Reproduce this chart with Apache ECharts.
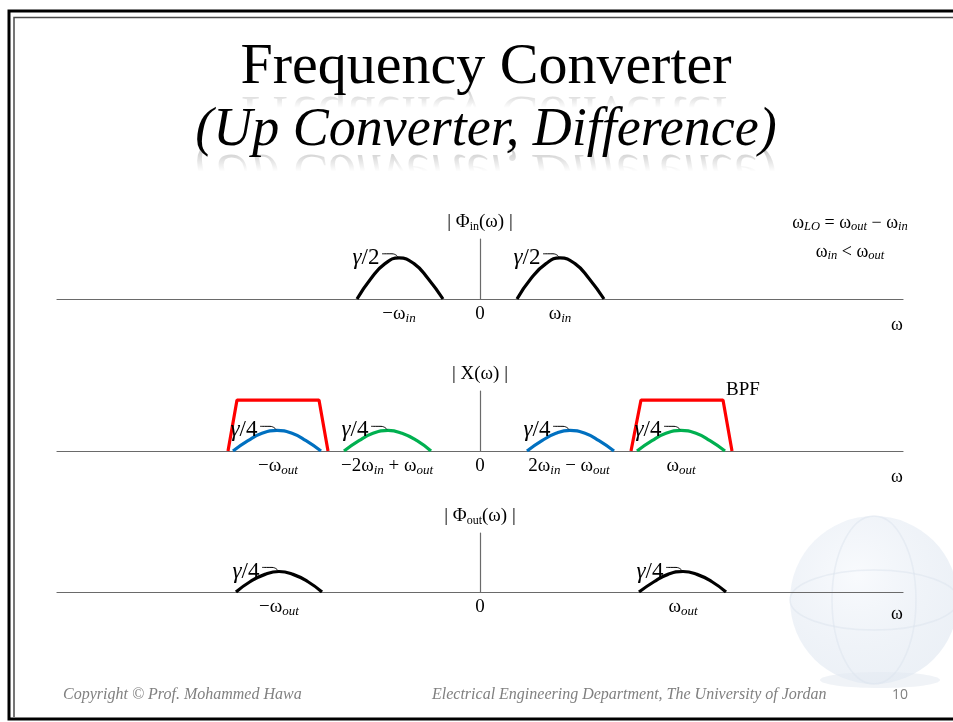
<!DOCTYPE html>
<html><head><meta charset="utf-8">
<script src="https://cdn.jsdelivr.net/npm/echarts@6/dist/echarts.min.js"></script>
<style>html,body{margin:0;padding:0;background:#fff}#c{width:953px;height:722px}</style>
</head><body><div id="c"></div>
<script>
const SERIF = '"Liberation Serif", "Times New Roman", serif';

// frequency axis range (arbitrary units, 0 at the centre)
const xRange = [-423, 423];
const yMaxes = [0.73, 0.73, 0.72];

// panel 1 : |Φin(ω)|  (peaks γ/2)
const inLeftX  = [-123, -109, -95, -81, -66, -52, -37];
const inRightX = [37, 51, 66, 80, 95, 109, 124];
const halfBump = [0, 0.25, 0.43, 0.5, 0.43, 0.25, 0];

// panel 2 : |X(ω)|  (peaks γ/4) + BPF
const blueLeftX   = [-247, -232, -218, -203, -188, -174, -159];
const greenLeftX  = [-136, -121, -107, -92, -78, -63, -49];
const blueRightX  = [47, 62, 76, 90, 105, 119, 134];
const greenRightX = [157, 172, 186, 201, 216, 230, 245];
const quarterBump = [0, 0.125, 0.215, 0.25, 0.215, 0.125, 0];
const bpfLeftX  = [-252, -243, -161, -152];
const bpfRightX = [151, 161, 243, 252];
const bpfLevel  = [0, 0.62, 0.62, 0];

// panel 3 : |Φout(ω)|
const outLeftX  = [-244, -230, -215, -201, -187, -172, -158];
const outRightX = [159, 174, 188, 203, 217, 232, 246];

// peaks that carry a γ label
const gammaPeaks1 = [-81, 80];
const gammaPeaks2 = [-203, -92, 90, 201];
const gammaPeaks3 = [-201, 203];

// tick labels
const ticks1 = [-81, 0, 80];
const tickLabels1 = ['{m|−ω}{s|in}', '{m|0}', '{m|ω}{s|in}'];
const ticks2 = [-202, -93, 0, 89, 201];
const tickLabels2 = ['{m|−ω}{s|out}', '{m|−2ω}{s|in}{m| + ω}{s|out}', '{m|0}', '{m|2ω}{s|in}{m| − ω}{s|out}', '{m|ω}{s|out}'];
const ticks3 = [-201, 0, 203];
const tickLabels3 = ['{m|−ω}{s|out}', '{m|0}', '{m|ω}{s|out}'];

const axisNames = ['{m|| Φ}{su|in}{m|(ω) |}', '{m|| X(ω) |}', '{m|| Φ}{su|out}{m|(ω) |}'];

const rich = {
  m:  {fontFamily: SERIF, fontSize: 19, color: '#000', lineHeight: 22, verticalAlign: 'middle'},
  s:  {fontFamily: SERIF, fontSize: 13, fontStyle: 'italic', color: '#000', lineHeight: 22, verticalAlign: 'bottom'},
  su: {fontFamily: SERIF, fontSize: 12, color: '#000', lineHeight: 22, verticalAlign: 'bottom'},
  g:  {fontFamily: SERIF, fontSize: 23, fontStyle: 'italic', color: '#000'},
  n:  {fontFamily: SERIF, fontSize: 23, color: '#000'}
};

const AX = '#6a6a6a';
const grids = [
  {left: 57, width: 846, top: 239, height: 60},
  {left: 57, width: 846, top: 391, height: 60},
  {left: 57, width: 846, top: 533, height: 59}
];
const tickSets = [[ticks1, tickLabels1], [ticks2, tickLabels2], [ticks3, tickLabels3]];
const omegaPad = [17, 17, 13];

const xAxes = tickSets.map(([t, l], gi) => ({
  type: 'value', gridIndex: gi, min: xRange[0], max: xRange[1],
  axisLine: {show: true, onZero: false, lineStyle: {color: AX, width: 1.2}},
  axisTick: {show: false}, splitLine: {show: false},
  axisLabel: {show: true, customValues: t, margin: 4, formatter: v => l[t.indexOf(v)], rich},
  name: 'ω', nameLocation: 'end', nameGap: -6,
  nameTextStyle: {fontFamily: SERIF, fontSize: 18, color: '#000', align: 'center', verticalAlign: 'top', padding: [omegaPad[gi], 0, 0, 0]}
}));
const yAxes = grids.map((g, gi) => ({
  type: 'value', gridIndex: gi, min: 0, max: yMaxes[gi],
  axisLine: {show: true, onZero: true, lineStyle: {color: AX, width: 1.2}},
  axisTick: {show: false}, axisLabel: {show: false}, splitLine: {show: false},
  name: axisNames[gi], nameLocation: 'end', nameGap: 6,
  nameTextStyle: {rich, align: 'center'}
}));

const zip = (xs, ys) => xs.map((x, i) => [x, ys[i]]);
function curve(gi, xs, ys, color) {
  return {type: 'line', xAxisIndex: gi, yAxisIndex: gi, data: zip(xs, ys), smooth: 0.5,
    symbol: 'none', silent: true, lineStyle: {color, width: 3.2}, z: 3};
}
function bpf(gi, xs) {
  return {type: 'line', xAxisIndex: gi, yAxisIndex: gi, data: zip(xs, bpfLevel), smooth: false,
    symbol: 'none', silent: true, lineStyle: {color: '#ff0000', width: 3.2}, z: 2};
}
function leaders(gi, peaks, h) {
  return peaks.map(p => ({type: 'line', xAxisIndex: gi, yAxisIndex: gi, smooth: 0.6, symbol: 'none',
    silent: true, lineStyle: {color: '#000', width: 1}, z: 4,
    data: [[p - 17, h + 0.05], [p - 7, h + 0.05], [p - 1, h + 0.012]]}));
}
const hiddenDot = {color: 'rgba(0,0,0,0)', opacity: 1};
function gammaLabels(gi, peaks, h, txt) {
  return {type: 'scatter', xAxisIndex: gi, yAxisIndex: gi, symbolSize: 1, clip: false, silent: true,
    itemStyle: hiddenDot, z: 5,
    data: peaks.map(p => [p - 18, h]),
    label: {show: true, position: 'left', distance: 1, color: '#000', opacity: 1, formatter: txt, rich}};
}

const BLUE = '#0070c0', GREEN = '#00b050';
const series = [
  curve(0, inLeftX, halfBump, '#000'),
  curve(0, inRightX, halfBump, '#000'),
  bpf(1, bpfLeftX), bpf(1, bpfRightX),
  curve(1, blueLeftX, quarterBump, BLUE),
  curve(1, greenLeftX, quarterBump, GREEN),
  curve(1, blueRightX, quarterBump, BLUE),
  curve(1, greenRightX, quarterBump, GREEN),
  curve(2, outLeftX, quarterBump, '#000'),
  curve(2, outRightX, quarterBump, '#000'),
  ...leaders(0, gammaPeaks1, 0.5), ...leaders(1, gammaPeaks2, 0.25), ...leaders(2, gammaPeaks3, 0.25),
  gammaLabels(0, gammaPeaks1, 0.5, '{g|γ}{n|/2}'),
  gammaLabels(1, gammaPeaks2, 0.25, '{g|γ}{n|/4}'),
  gammaLabels(2, gammaPeaks3, 0.25, '{g|γ}{n|/4}'),
  {type: 'scatter', xAxisIndex: 1, yAxisIndex: 1, symbolSize: 1, clip: false, silent: true,
   itemStyle: hiddenDot, data: [[263, 0.745]],
   label: {show: true, position: 'inside', formatter: 'BPF', fontFamily: SERIF, fontSize: 19, color: '#000', opacity: 1}}
];

// title line with a faint mirrored reflection (faded by a white gradient veil)
function titleLine(text, x, mid, base, size, italic, depth) {
  const st = {text, fontFamily: SERIF, fontSize: size, fontStyle: italic ? 'italic' : 'normal',
    textAlign: 'center', textVerticalAlign: 'middle'};
  const veilTop = base - 30, veilH = 30 + size * depth;
  const b = 30 / veilH;
  return [
    {type: 'text', x, y: mid, z: 10, style: Object.assign({fill: '#000'}, st)},
    {type: 'text', x, y: mid, originX: 0, originY: base + 1 - mid, scaleY: -1, z: 7,
     style: Object.assign({fill: 'rgba(0,0,0,0.3)'}, st)},
    {type: 'rect', z: 8, shape: {x: 150, y: veilTop, width: 680, height: veilH},
     style: {fill: {type: 'linear', x: 0, y: 0, x2: 0, y2: 1, colorStops: [
       {offset: 0, color: 'rgba(255,255,255,1)'}, {offset: b, color: 'rgba(255,255,255,1)'},
       {offset: b + 0.005, color: 'rgba(255,255,255,0.3)'}, {offset: b + (1 - b) * 0.38, color: 'rgba(255,255,255,1)'},
       {offset: 1, color: 'rgba(255,255,255,1)'}]}}}
  ];
}

const relRich = {m: {fontFamily: SERIF, fontSize: 18, fill: '#000', lineHeight: 20, verticalAlign: 'middle'},
  s: {fontFamily: SERIF, fontSize: 12.5, fontStyle: 'italic', fill: '#000', lineHeight: 20, verticalAlign: 'bottom'}};

const graphic = [
  // slide frame
  {type: 'polyline', z: 20, shape: {points: [[953, 11], [9, 11], [9, 719], [953, 719]]}, style: {stroke: '#000', lineWidth: 3, fill: null}},
  {type: 'polyline', z: 20, shape: {points: [[953, 17.5], [14, 17.5], [14, 717]]}, style: {stroke: '#4a4a4a', lineWidth: 1.5, fill: null}},
  // faint globe watermark
  {type: 'circle', z: -10, shape: {cx: 874, cy: 600, r: 84}, style: {fill: {type: 'radial', x: 0.4, y: 0.35, r: 0.75, colorStops: [
    {offset: 0, color: 'rgba(248,250,253,0.9)'}, {offset: 1, color: 'rgba(222,230,240,0.6)'}]}}},
  {type: 'ellipse', z: -9, shape: {cx: 874, cy: 600, rx: 42, ry: 84}, style: {stroke: 'rgba(220,228,238,0.5)', lineWidth: 1.5, fill: null}},
  {type: 'ellipse', z: -9, shape: {cx: 874, cy: 600, rx: 84, ry: 30}, style: {stroke: 'rgba(220,228,238,0.5)', lineWidth: 1.5, fill: null}},
  {type: 'ellipse', z: -11, shape: {cx: 880, cy: 680, rx: 60, ry: 8}, style: {fill: 'rgba(225,232,240,0.5)'}},
  ...titleLine('Frequency Converter', 486, 68, 89, 58, false, 0.85),
  ...titleLine('(Up Converter, Difference)', 486, 131, 149, 54, true, 1.1),
  // conversion relations
  {type: 'text', x: 850, y: 223, z: 12, style: {text: '{m|ω}{s|LO}{m| = ω}{s|out}{m| − ω}{s|in}', textAlign: 'center', textVerticalAlign: 'middle', rich: relRich}},
  {type: 'text', x: 850, y: 252, z: 12, style: {text: '{m|ω}{s|in}{m| < ω}{s|out}', textAlign: 'center', textVerticalAlign: 'middle', rich: relRich}},
  // footer
  {type: 'text', x: 63, y: 695, style: {text: 'Copyright © Prof. Mohammed Hawa', fontFamily: SERIF, fontSize: 16, fontStyle: 'italic', fill: '#808080', textVerticalAlign: 'middle'}},
  {type: 'text', x: 432, y: 695, style: {text: 'Electrical Engineering Department, The University of Jordan', fontFamily: SERIF, fontSize: 16, fontStyle: 'italic', fill: '#808080', textVerticalAlign: 'middle'}},
  {type: 'text', x: 900, y: 695, style: {text: '10', fontFamily: '"Open Sans", sans-serif', fontSize: 14, fill: '#808080', textAlign: 'center', textVerticalAlign: 'middle'}}
];

const chart = echarts.init(document.getElementById('c'), null, {renderer: 'canvas'});
chart.setOption({
  animation: false,
  backgroundColor: '#fff',
  grid: grids,
  xAxis: xAxes,
  yAxis: yAxes,
  series,
  graphic
});
</script></body></html>
